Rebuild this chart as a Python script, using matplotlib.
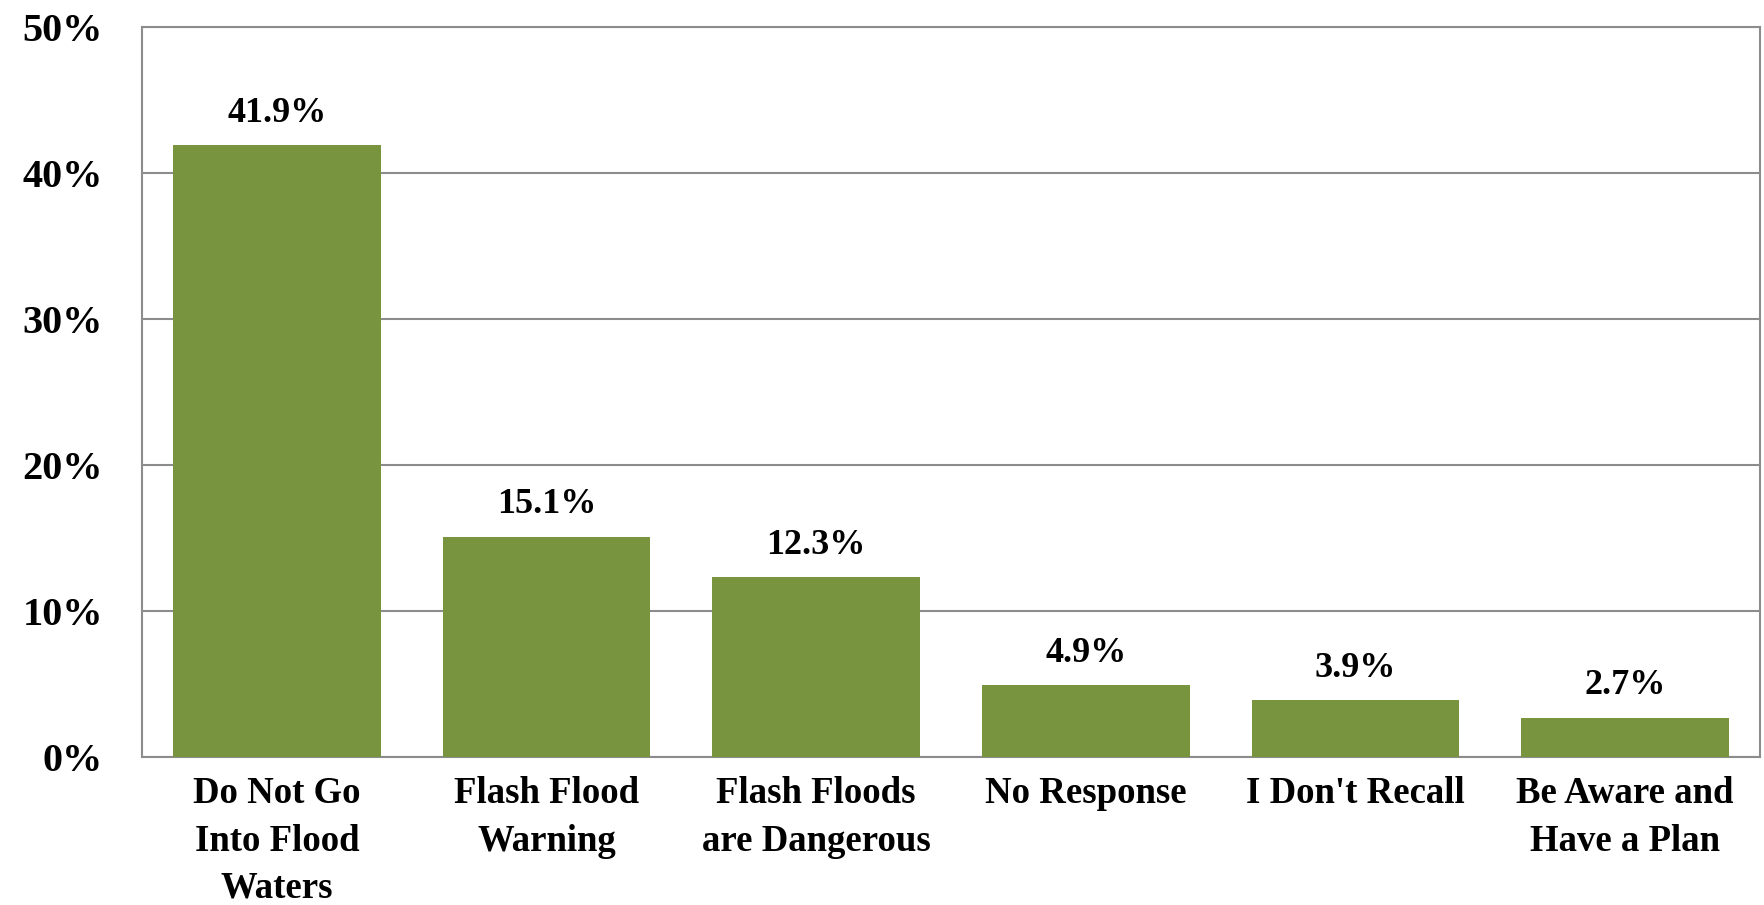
import matplotlib
matplotlib.use("Agg")
import matplotlib.pyplot as plt
from matplotlib.ticker import FuncFormatter

categories = ["Do Not Go\nInto Flood\nWaters", "Flash Flood\nWarning", "Flash Floods\nare Dangerous",
              "No Response", "I Don't Recall", "Be Aware and\nHave a Plan"]
values = [41.9, 15.1, 12.3, 4.9, 3.9, 2.7]
yticks = [0, 10, 20, 30, 40, 50]

plt.rcParams['font.family'] = ['Liberation Serif', 'DejaVu Serif']
plt.rcParams['font.weight'] = 'bold'

fig = plt.figure(figsize=(17.65, 9.05), dpi=100)
ax = fig.add_axes([142/1765, 1 - 757/905, (1760-142)/1765, (757-27)/905])

x = list(range(len(categories)))
bars = ax.bar(x, values, width=0.77, color='#78943E', zorder=3)
for xi, v in zip(x, values):
    ax.annotate(f"{v:.1f}%", (xi, v), xytext=(0, 11), textcoords='offset points',
                ha='center', va='bottom', fontsize=26, fontweight='bold', color='black')

ax.set_xlim(-0.5, len(categories) - 0.5)
ax.set_ylim(0, 50)
ax.set_yticks(yticks)
ax.yaxis.set_major_formatter(FuncFormatter(lambda v, p: f"{v:.0f}%"))
ax.set_xticks(x)
ax.set_xticklabels(categories, fontsize=26.5, fontweight='bold', linespacing=1.45)
ax.tick_params(axis='y', length=0, pad=28, labelsize=29)
ax.tick_params(axis='x', length=0, pad=14)
ax.grid(axis='y', color='#8c8c8c', linewidth=1.5, zorder=0)
for s in ax.spines.values():
    s.set_color('#8c8c8c')
    s.set_linewidth(1.5)

fig.savefig("out.png", dpi=100)
